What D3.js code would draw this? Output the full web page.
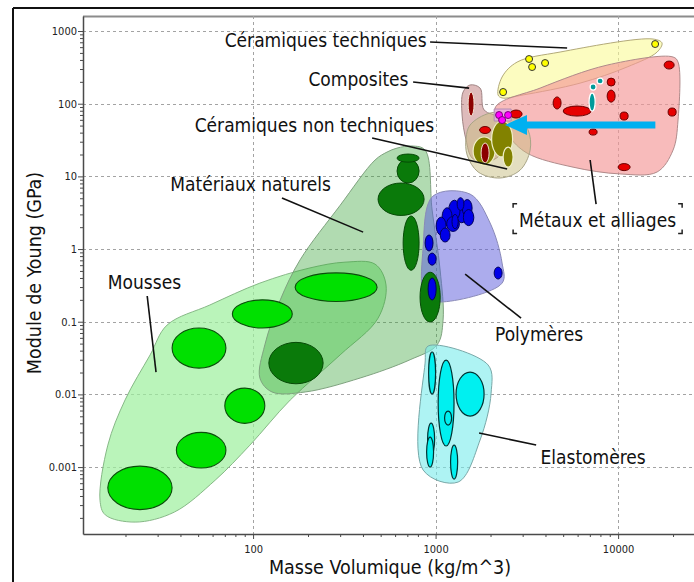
<!DOCTYPE html>
<html><head><meta charset="utf-8">
<script src="https://cdn.jsdelivr.net/npm/d3@7/dist/d3.min.js"></script>
<style>
html,body{margin:0;padding:0;background:#fff;}
svg{display:block;font-family:"DejaVu Sans Condensed","DejaVu Sans",sans-serif;}
</style>
</head><body>
<svg id="c" width="694" height="582"></svg>
<script>
// ---------- axes ----------
const xTicks = [100, 1000, 10000];
const xTickLabels = ["100", "1000", "10000"];
const yTicks = [0.001, 0.01, 0.1, 1, 10, 100, 1000];
const yTickLabels = ["0.001", "0.01", "0.1", "1", "10", "100", "1000"];
const xTitle = "Masse Volumique (kg/m^3)";
const yTitle = "Module de Young (GPa)";

// ---------- envelopes: [density kg/m3, modulus GPa] ----------
const mousseEnv = [[14.5,0.00035],[16,0.002],[19.9,0.0084],[27.3,0.035],[33.8,0.09],[58,0.17],[109,0.34],[205,0.55],[319,0.66],[466,0.62],[535,0.32],[484,0.112],[300,0.035],[160,0.0084],[96,0.002],[62,0.00066],[37,0.00024],[22.6,0.000175],[15.5,0.00022]];
const naturalEnv = [[542,21.6],[615,24.5],[743,26.2],[876,23],[957,3.44],[1059,0.514],[1099,0.105],[1019,0.048],[725,0.030],[386,0.0168],[193,0.0108],[127,0.0108],[109,0.0168],[116,0.048],[141,0.2],[181,0.71],[300,4.0],[466,16.8]];
const polymerEnv = [[968,5.36],[1545,5.7],[1990,2.28],[2314,0.641],[2314,0.34],[1059,0.187],[876,0.219],[855,1.07]];
const elastomerEnv = [[910,0.0463],[1940,0.0254],[2014,0.0104],[1753,0.00236],[1328,0.000622],[855,0.00091],[876,0.027]];
const techCeramicEnv = [[2200,132],[2314,233],[2797,374],[4810,514],[15550,776],[17400,684],[16360,514],[11200,320],[6190,192],[3016,132],[2314,120]];
const metalEnv = [[2118,87.2],[3740,164],[8710,340],[20000,439],[21300,374],[21300,59.6],[20000,23.0],[16360,11.5],[10250,10.8],[5665,13.4],[3172,20.9],[2496,37.0]];
const compositeEnv = [[1415,145],[1545,181],[1753,164],[1844,81.8],[2256,63.5],[2466,37.0],[2256,19.7],[1868,15.7],[1585,17.9],[1469,31.6],[1397,69.8]];
const nonTechEnv = [[1545,50.9],[1990,74.4],[2729,69.8],[3213,43.4],[3296,23.0],[2904,12.2],[2256,9.5],[1710,11.5],[1489,19.7],[1469,33.7]];
const smallBox = [[2094,84.5],[2594,84.5],[2594,57.8],[2094,57.8]];

// ---------- material bubbles: [rhoMin, rhoMax, Emin, Emax] ----------
const mousses = [[16,36,0.00026,0.00103],[38,71,0.00097,0.0030],[70,116,0.0040,0.0122],[36,71,0.023,0.082],[77,164,0.082,0.20],[170,478,0.19,0.47]];
const naturels = [[122,242,0.014,0.052],[615,812,8.1,17.3],[615,812,15.7,20.3],[484,865,2.9,8.1],[664,812,0.51,2.85],[822,1060,0.099,0.48]];
const polymeres = [[1290,1500,2.3,4.5],[1180,1362,2.5,4.7],[1086,1231,2.1,3.7],[1400,1585,2.8,4.8],[1007,1142,1.56,2.75],[1060,1200,1.25,1.95],[1150,1350,1.75,2.8],[1420,1620,2.1,3.5],[1312,1430,3.4,5.1],[1230,1330,1.9,3.0],[876,968,0.94,1.56],[910,1007,0.60,0.88],[2094,2314,0.387,0.565],[910,1007,0.199,0.40]];
const elastomeres = [[916,1000,0.0101,0.0383],[1033,1262,0.00195,0.0297],[1295,1844,0.00504,0.0203],[1120,1224,0.00379,0.0059],[904,988,0.00146,0.00403],[893,975,0.001,0.00259],[1208,1321,0.000684,0.00201]];
const metaux = [[17870,20280,300,386],[8710,9630,175,225],[8710,9630,105,154],[4405,4870,84.5,124],[5000,7110,67.6,92.9],[10250,11350,59.6,76.8],[18790,20800,67.6,87.2],[6935,7674,37.0,44.8],[10000,11640,12.0,15.0],[2560,2978,63.5,81.8],[1742,2000,38.9,48.5]];
const teal = [[7674,8275,187,225],[7025,7575,154,187],[6935,7485,79.3,140]];
const ceramTech = [[3112,3400,369,460],[3234,3530,286,357],[3808,4160,325,405],[2243,2449,129,162],[15270,16670,593,740]];
const ceramNonTech = [[1605,2118,14.3,34.8],[2028,2642,18.5,57.8],[2344,2659,13.4,25.3]];
const compositesDark = [[1775,1965,15.3,28.8],[1507,1625,67.6,145]];
const magenta = [[2132,2328,62.5,78.0],[2388,2609,62.5,78.0],[2214,2420,53.3,66.6]];
const arrowFromTo = [[16000,51],[2400,51]];

// ---------- labels ----------
const labels = [
  {text:"Céramiques techniques", at:[250,603]},
  {text:"Composites", at:[378,175]},
  {text:"Céramiques non techniques", at:[217,40.7]},
  {text:"Matériaux naturels", at:[96.9,6.29]},
  {text:"Mousses", at:[25.4,0.282]},
  {text:"Polymères", at:[3690,0.0542]},
  {text:"Elastomères", at:[7295,0.0011]},
  {text:"Métaux et alliages", at:[7720,2.01]}
];
const leaders = [
  [[933,707],[5255,583]],
  [[753,199],[1526,164]],
  [[449,33.7],[2466,12.6]],
  [[144,5.04],[401,1.71]],
  [[26.3,0.226],[29.4,0.0203]],
  [[1452,0.453],[2941,0.112]],
  [[1731,0.00294],[3556,0.00201]],
  [[7025,16.8],[7575,4.16]]
];
const bracketBox = [[2659,4.2],[22430,1.64]];

// ---------- drawing ----------
const svg = d3.select("#c");
const L = 83, R = 700, T = 16, B = 534;
const x = d3.scaleLog().domain([11.7, 28100]).range([L, R]);
const y = d3.scaleLog().domain([0.00012, 1610]).range([B, T]);

// outer frame
svg.append("line").attr("x1",13).attr("y1",8).attr("x2",694).attr("y2",8).attr("stroke","#111").attr("stroke-width",2);
svg.append("line").attr("x1",13).attr("y1",8).attr("x2",13).attr("y2",582).attr("stroke","#111").attr("stroke-width",2);
svg.append("line").attr("x1",L).attr("y1",T+0.5).attr("x2",694).attr("y2",T+0.5).attr("stroke","#8c8c8c").attr("stroke-width",2);

// grid
const grid = svg.append("g").attr("stroke","#a3a3a3").attr("stroke-width",1).attr("stroke-dasharray","3,3");
yTicks.forEach(v => grid.append("line").attr("x1",L).attr("x2",R).attr("y1",Math.round(y(v))+0.5).attr("y2",Math.round(y(v))+0.5));
xTicks.forEach(v => grid.append("line").attr("y1",T).attr("y2",B).attr("x1",Math.round(x(v))+0.5).attr("x2",Math.round(x(v))+0.5));

const plot = svg.append("g");
const line = d3.line().x(d=>x(d[0])).y(d=>y(d[1])).curve(d3.curveCatmullRomClosed.alpha(0.5));
function env(pts, fill, op, stroke){
  plot.append("path").attr("d", line(pts)).attr("fill",fill).attr("fill-opacity",op)
    .attr("stroke",stroke).attr("stroke-width",1);
}
function ell(arr, fill, stroke, sw){
  arr.forEach(d=>{
    const x0=x(d[0]), x1=x(d[1]), y0=y(d[3]), y1=y(d[2]);
    plot.append("ellipse").attr("cx",(x0+x1)/2).attr("cy",(y0+y1)/2)
      .attr("rx",(x1-x0)/2).attr("ry",(y1-y0)/2)
      .attr("fill",fill).attr("stroke",stroke).attr("stroke-width",sw);
  });
}

env(mousseEnv, "rgb(156,240,156)", 0.7, "#86b886");
env(naturalEnv, "rgb(50,160,50)", 0.38, "#7fa27f");
ell(mousses, "#00e000", "#0b4d0b", 1.1);
env(polymerEnv, "rgb(90,90,220)", 0.5, "#8a8ab8");
ell(naturels, "#0a7a0a", "#064a06", 1);
ell(polymeres, "#0000e8", "#00005a", 1);
env(elastomerEnv, "rgb(120,235,235)", 0.6, "#78a8a8");
ell(elastomeres, "#00f0f0", "#033", 1.2);

env(techCeramicEnv, "rgb(250,250,150)", 0.6, "#b3aa7a");
env(metalEnv, "rgb(245,150,150)", 0.65, "#b08a8a");
env(compositeEnv, "rgb(190,120,120)", 0.5, "#a08484");
env(nonTechEnv, "rgb(200,190,130)", 0.5, "#a8a486");
plot.append("path").attr("d", d3.line().x(d=>x(d[0])).y(d=>y(d[1])).curve(d3.curveLinearClosed)(smallBox))
  .attr("fill","rgb(230,170,230)").attr("fill-opacity",0.8).attr("stroke","#b090b0").attr("stroke-width",1);
ell(metaux, "#e60000", "#6a0000", 1);
ell(teal, "#009a9a", "#fff", 1.2);
ell(ceramTech, "#ffff00", "#333", 1);
ell(ceramNonTech, "#828200", "#f0f0c8", 1.2);
ell(compositesDark, "#8b0000", "#f3e0d0", 1);
ell(magenta, "#ff00ff", "#7a007a", 1);

// arrow
{
  const [a,b] = arrowFromTo;
  const xs = x(a[0]), xe = x(b[0]), yy = y(a[1]);
  const head = 22, hh = 10, sh = 3.5;
  const p = d3.path();
  p.moveTo(xs, yy-sh); p.lineTo(xe+head, yy-sh); p.lineTo(xe+head, yy-hh);
  p.lineTo(xe, yy); p.lineTo(xe+head, yy+hh); p.lineTo(xe+head, yy+sh); p.lineTo(xs, yy+sh); p.closePath();
  plot.append("path").attr("d", p.toString()).attr("fill","#00b0f0");
}

// axes
const fontTick = 11;
function styleAxis(g){
  g.select(".domain").attr("stroke","#4a4a4a").attr("stroke-width",1.5);
  g.selectAll(".tick line").attr("stroke","#4a4a4a");
  g.selectAll(".tick text").attr("fill","#222").attr("font-size",fontTick)
    .attr("font-family",'"DejaVu Sans Condensed","DejaVu Sans",sans-serif');
}
const yMinor = [], xMinor = [];
for (let k=-4;k<=3;k++) for (let m=2;m<=9;m++){ const v=m*Math.pow(10,k); if (v>y.domain()[0] && v<y.domain()[1]) yMinor.push(v); }
for (let k=1;k<=4;k++) for (let m=2;m<=9;m++){ const v=m*Math.pow(10,k); if (v>x.domain()[0] && v<x.domain()[1]) xMinor.push(v); }

const gyMinor = svg.append("g").attr("transform",`translate(${L},0)`)
  .call(d3.axisLeft(y).tickValues(yMinor).tickFormat("").tickSize(3));
gyMinor.select(".domain").remove(); gyMinor.selectAll(".tick line").attr("stroke","#4a4a4a");
const gy = svg.append("g").attr("transform",`translate(${L},0)`)
  .call(d3.axisLeft(y).tickValues(yTicks).tickFormat((d,i)=>yTickLabels[i]).tickSize(5).tickSizeOuter(0).tickPadding(1));
styleAxis(gy);

const gxMinor = svg.append("g").attr("transform",`translate(0,${B})`)
  .call(d3.axisBottom(x).tickValues(xMinor).tickFormat("").tickSize(3));
gxMinor.select(".domain").remove(); gxMinor.selectAll(".tick line").attr("stroke","#4a4a4a");
const gx = svg.append("g").attr("transform",`translate(0,${B})`)
  .call(d3.axisBottom(x).tickValues(xTicks).tickFormat((d,i)=>xTickLabels[i]).tickSize(5).tickSizeOuter(0).tickPadding(6));
styleAxis(gx);

// titles
svg.append("text").attr("x",390).attr("y",574).attr("text-anchor","middle")
  .attr("font-size",19.5).attr("fill","#111").text(xTitle);
svg.append("text").attr("transform","translate(41,273) rotate(-90)").attr("text-anchor","middle")
  .attr("font-size",19.5).attr("fill","#111").text(yTitle);

// leaders & labels
const ann = svg.append("g");
leaders.forEach(l => ann.append("line")
  .attr("x1",x(l[0][0])).attr("y1",y(l[0][1])).attr("x2",x(l[1][0])).attr("y2",y(l[1][1]))
  .attr("stroke","#111").attr("stroke-width",1.6));
labels.forEach(l => ann.append("text").attr("x",x(l.at[0])).attr("y",y(l.at[1]))
  .attr("text-anchor","middle").attr("font-size",19).attr("fill","#111").text(l.text));
{
  const bx0=x(bracketBox[0][0]), bx1=x(bracketBox[1][0]), by0=y(bracketBox[0][1]), by1=y(bracketBox[1][1]);
  const s=4, p=d3.path();
  p.moveTo(bx0+s,by0); p.lineTo(bx0,by0); p.lineTo(bx0,by0+s);
  p.moveTo(bx0+s,by1); p.lineTo(bx0,by1); p.lineTo(bx0,by1-s);
  p.moveTo(bx1-s,by0); p.lineTo(bx1,by0); p.lineTo(bx1,by0+s);
  p.moveTo(bx1-s,by1); p.lineTo(bx1,by1); p.lineTo(bx1,by1-s);
  ann.append("path").attr("d",p.toString()).attr("fill","none").attr("stroke","#222").attr("stroke-width",1.5);
}
</script>
</body></html>
